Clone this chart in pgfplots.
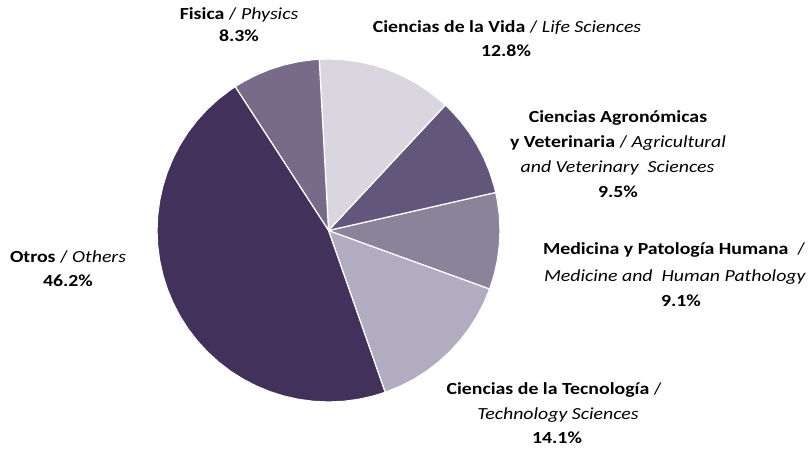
\documentclass[border=0pt]{standalone}
\usepackage{fontspec}
\setmainfont{Carlito}[FakeStretch=1.17]
\usepackage{pgfplots}
\pgfplotsset{compat=1.18}
\definecolor{cOtros}{HTML}{41315B}
\definecolor{cFis}{HTML}{776B89}
\definecolor{cVida}{HTML}{D9D6DF}
\definecolor{cAgro}{HTML}{62577B}
\definecolor{cMed}{HTML}{8B8399}
\definecolor{cTec}{HTML}{B1ACBF}
\begin{document}
\begin{tikzpicture}
\useasboundingbox (0,0) rectangle (809bp,449bp);
\begin{axis}[at={(0,0)}, anchor=south west, width=809bp, height=449bp, scale only axis, hide axis,
  xmin=-328.5, xmax=480.5, ymin=-218.5, ymax=230.5, clip=false]
% Ciencias de la Tecnologia 14.1%
\addplot[fill=cTec, draw=white, line width=1.2bp, data cs=polar] coordinates {(0,0) (-70.7,171.5) (-65,171.5) (-60,171.5) (-55,171.5) (-50,171.5) (-45,171.5) (-40,171.5) (-35,171.5) (-30,171.5) (-25,171.5) (-19.94,171.5) (0,0)};
% Medicina 9.1%
\addplot[fill=cMed, draw=white, line width=1.2bp, data cs=polar] coordinates {(0,0) (-19.94,171.5) (-15,171.5) (-10,171.5) (-5,171.5) (0,171.5) (5,171.5) (10,171.5) (12.82,171.5) (0,0)};
% Agronomicas 9.5%
\addplot[fill=cAgro, draw=white, line width=1.2bp, data cs=polar] coordinates {(0,0) (12.82,171.5) (15,171.5) (20,171.5) (25,171.5) (30,171.5) (35,171.5) (40,171.5) (45,171.5) (47.02,171.5) (0,0)};
% Vida 12.8%
\addplot[fill=cVida, draw=white, line width=1.2bp, data cs=polar] coordinates {(0,0) (47.02,171.5) (50,171.5) (55,171.5) (60,171.5) (65,171.5) (70,171.5) (75,171.5) (80,171.5) (85,171.5) (90,171.5) (93.1,171.5) (0,0)};
% Fisica 8.3%
\addplot[fill=cFis, draw=white, line width=1.2bp, data cs=polar] coordinates {(0,0) (93.1,171.5) (95,171.5) (100,171.5) (105,171.5) (110,171.5) (115,171.5) (120,171.5) (122.98,171.5) (0,0)};
% Otros 46.2%
\addplot[fill=cOtros, draw=white, line width=1.2bp, data cs=polar] coordinates {(0,0) (122.98,171.5) (125,171.5) (130,171.5) (135,171.5) (140,171.5) (145,171.5) (150,171.5) (155,171.5) (160,171.5) (165,171.5) (170,171.5) (175,171.5) (180,171.5) (185,171.5) (190,171.5) (195,171.5) (200,171.5) (205,171.5) (210,171.5) (215,171.5) (220,171.5) (225,171.5) (230,171.5) (235,171.5) (240,171.5) (245,171.5) (250,171.5) (255,171.5) (260,171.5) (265,171.5) (270,171.5) (275,171.5) (280,171.5) (285,171.5) (289.3,171.5) (0,0)};
\tikzset{lab/.style={anchor=base, inner sep=0pt, font=\fontsize{17}{20}\selectfont}}
\node[lab] at (axis cs:-89.5,210.5) {\textbf{Fisica} / \textit{Physics}};
\node[lab] at (axis cs:-89.5,188.5) {\textbf{8.3\%}};
\node[lab] at (axis cs:178.5,197.5) {\textbf{Ciencias de la Vida} / \textit{Life Sciences}};
\node[lab] at (axis cs:177.5,173.5) {\textbf{12.8\%}};
\node[lab] at (axis cs:289.5,107.5) {\textbf{Ciencias Agronómicas}};
\node[lab] at (axis cs:289.5,82.5) {\textbf{y Veterinaria} / \textit{Agricultural}};
\node[lab] at (axis cs:289,57.5) {\textit{and Veterinary\ \ Sciences}};
\node[lab] at (axis cs:289.5,32.5) {\textbf{9.5\%}};
\node[lab] at (axis cs:345.5,-24.5) {\textbf{Medicina y Patología Humana}\ \ /};
\node[lab] at (axis cs:346.5,-51.5) {\textit{Medicine and\ \ Human Pathology}};
\node[lab] at (axis cs:352.5,-76.5) {\textbf{9.1\%}};
\node[lab] at (axis cs:225.5,-164.5) {\textbf{Ciencias de la Tecnología} /};
\node[lab] at (axis cs:229.5,-189.5) {\textit{Technology Sciences}};
\node[lab] at (axis cs:228.5,-213.5) {\textbf{14.1\%}};
\node[lab] at (axis cs:-260.5,-32.5) {\textbf{Otros} / \textit{Others}};
\node[lab] at (axis cs:-260.5,-56.5) {\textbf{46.2\%}};
\end{axis}
\end{tikzpicture}
\end{document}
